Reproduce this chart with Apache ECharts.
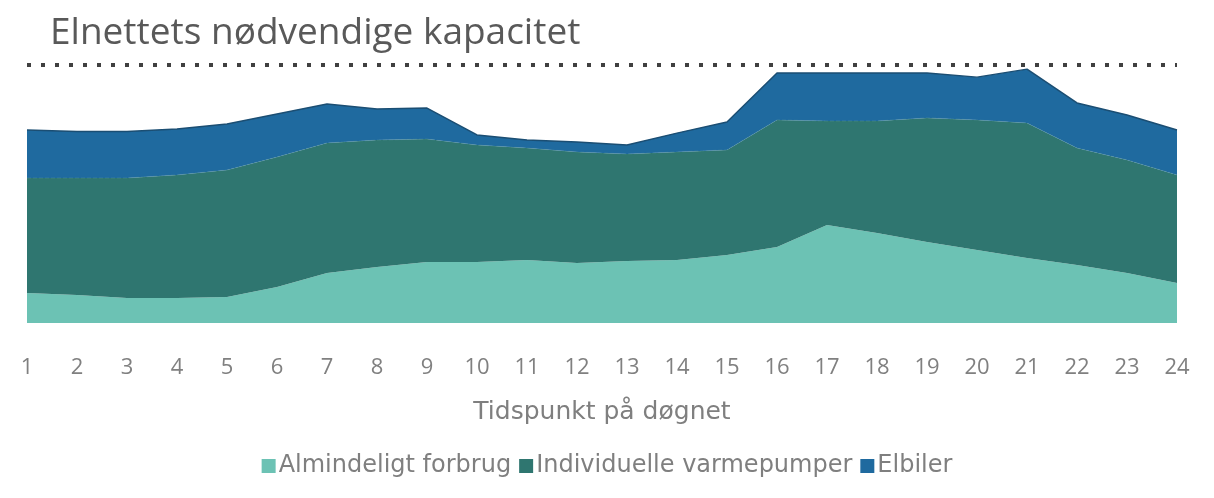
<!DOCTYPE html>
<html>
<head>
<meta charset="utf-8">
<title>Elnettets nødvendige kapacitet</title>
<script src="https://cdn.jsdelivr.net/npm/echarts@6/dist/echarts.min.js"></script>
<style>
  html, body { margin: 0; padding: 0; background: #ffffff; }
  #chart { width: 1214px; height: 498px; }
</style>
</head>
<body>
<div id="chart"></div>
<script>
// timer på døgnet
const hours = ['1', '2', '3', '4', '5', '6', '7', '8', '9', '10', '11', '12',
  '13', '14', '15', '16', '17', '18', '19', '20', '21', '22', '23', '24']

// andel af nettets kapacitet (kapacitet = 100)
const almindeligt = [11.6, 10.9, 9.7, 9.7, 10.1, 14.0, 19.4, 21.7, 23.6, 23.6, 24.4, 23.3,
  24.0, 24.4, 26.4, 29.5, 38.0, 34.9, 31.4, 28.3, 25.2, 22.5, 19.4, 15.5]
const varmepumper = [44.6, 45.3, 46.5, 47.7, 49.2, 50.3, 50.4, 49.2, 47.7, 45.4, 43.4, 43.0,
  41.5, 41.9, 40.7, 49.2, 40.3, 43.4, 48.1, 50.4, 52.3, 45.3, 43.8, 41.9]
const elbiler = [18.6, 18.0, 18.0, 17.8, 17.8, 16.7, 15.1, 12.0, 12.0, 3.9, 3.1, 3.9,
  3.5, 7.3, 10.8, 18.2, 18.6, 18.6, 17.4, 16.6, 20.9, 17.5, 17.4, 17.4]
const capacity = 100

const seriesNames = ['Almindeligt forbrug', 'Individuelle varmepumper', 'Elbiler']
const colors = ['#6cc2b4', '#2f7670', '#1f6a9f']

const chart = echarts.init(document.getElementById('chart'))

const areaSeries = (name, data, color, line) => ({
  name,
  type: 'line',
  stack: 'total',
  data,
  symbol: 'none',
  smooth: false,
  lineStyle: line,
  itemStyle: { color },
  areaStyle: { color, opacity: 1 }
})

chart.setOption({
  animation: false,
  title: {
    text: 'Elnettets nødvendige kapacitet',
    left: 45,
    top: 10,
    textStyle: {
      fontFamily: 'Open Sans',
      fontSize: 37,
      fontWeight: 'normal',
      color: '#595959'
    }
  },
  legend: {
    data: seriesNames,
    left: 'center',
    top: 449,
    icon: 'rect',
    itemWidth: 14,
    itemHeight: 14,
    itemGap: 8,
    textStyle: {
      fontFamily: 'DejaVu Sans',
      fontSize: 24,
      color: '#7f7f7f',
      padding: [0, 0, 0, -2]
    }
  },
  grid: {
    left: 27,
    right: 37,
    top: 65,
    bottom: 175
  },
  xAxis: {
    type: 'category',
    data: hours,
    boundaryGap: false,
    name: 'Tidspunkt på døgnet',
    nameLocation: 'middle',
    nameGap: 77,
    nameTextStyle: {
      fontFamily: 'DejaVu Sans',
      fontSize: 25,
      color: '#7f7f7f'
    },
    axisLine: { show: false },
    axisTick: { show: false },
    axisLabel: {
      margin: 34,
      fontFamily: 'Open Sans',
      fontSize: 22,
      color: '#808080'
    },
    splitLine: { show: false }
  },
  yAxis: {
    type: 'value',
    min: 0,
    max: capacity,
    show: false
  },
  series: [
    areaSeries(seriesNames[0], almindeligt, colors[0], { width: 0 }),
    areaSeries(seriesNames[1], varmepumper, colors[1], { width: 1, color: '#5e9fa0', opacity: 0.35, type: 'dashed' }),
    Object.assign(areaSeries(seriesNames[2], elbiler, colors[2], { width: 1.5, color: '#1b4e73' }), {
      markLine: {
        silent: true,
        symbol: 'none',
        label: { show: false },
        lineStyle: { type: [4, 10], width: 4, color: '#404040', cap: 'butt' },
        data: [{ yAxis: capacity }]
      }
    })
  ]
})
</script>
</body>
</html>
